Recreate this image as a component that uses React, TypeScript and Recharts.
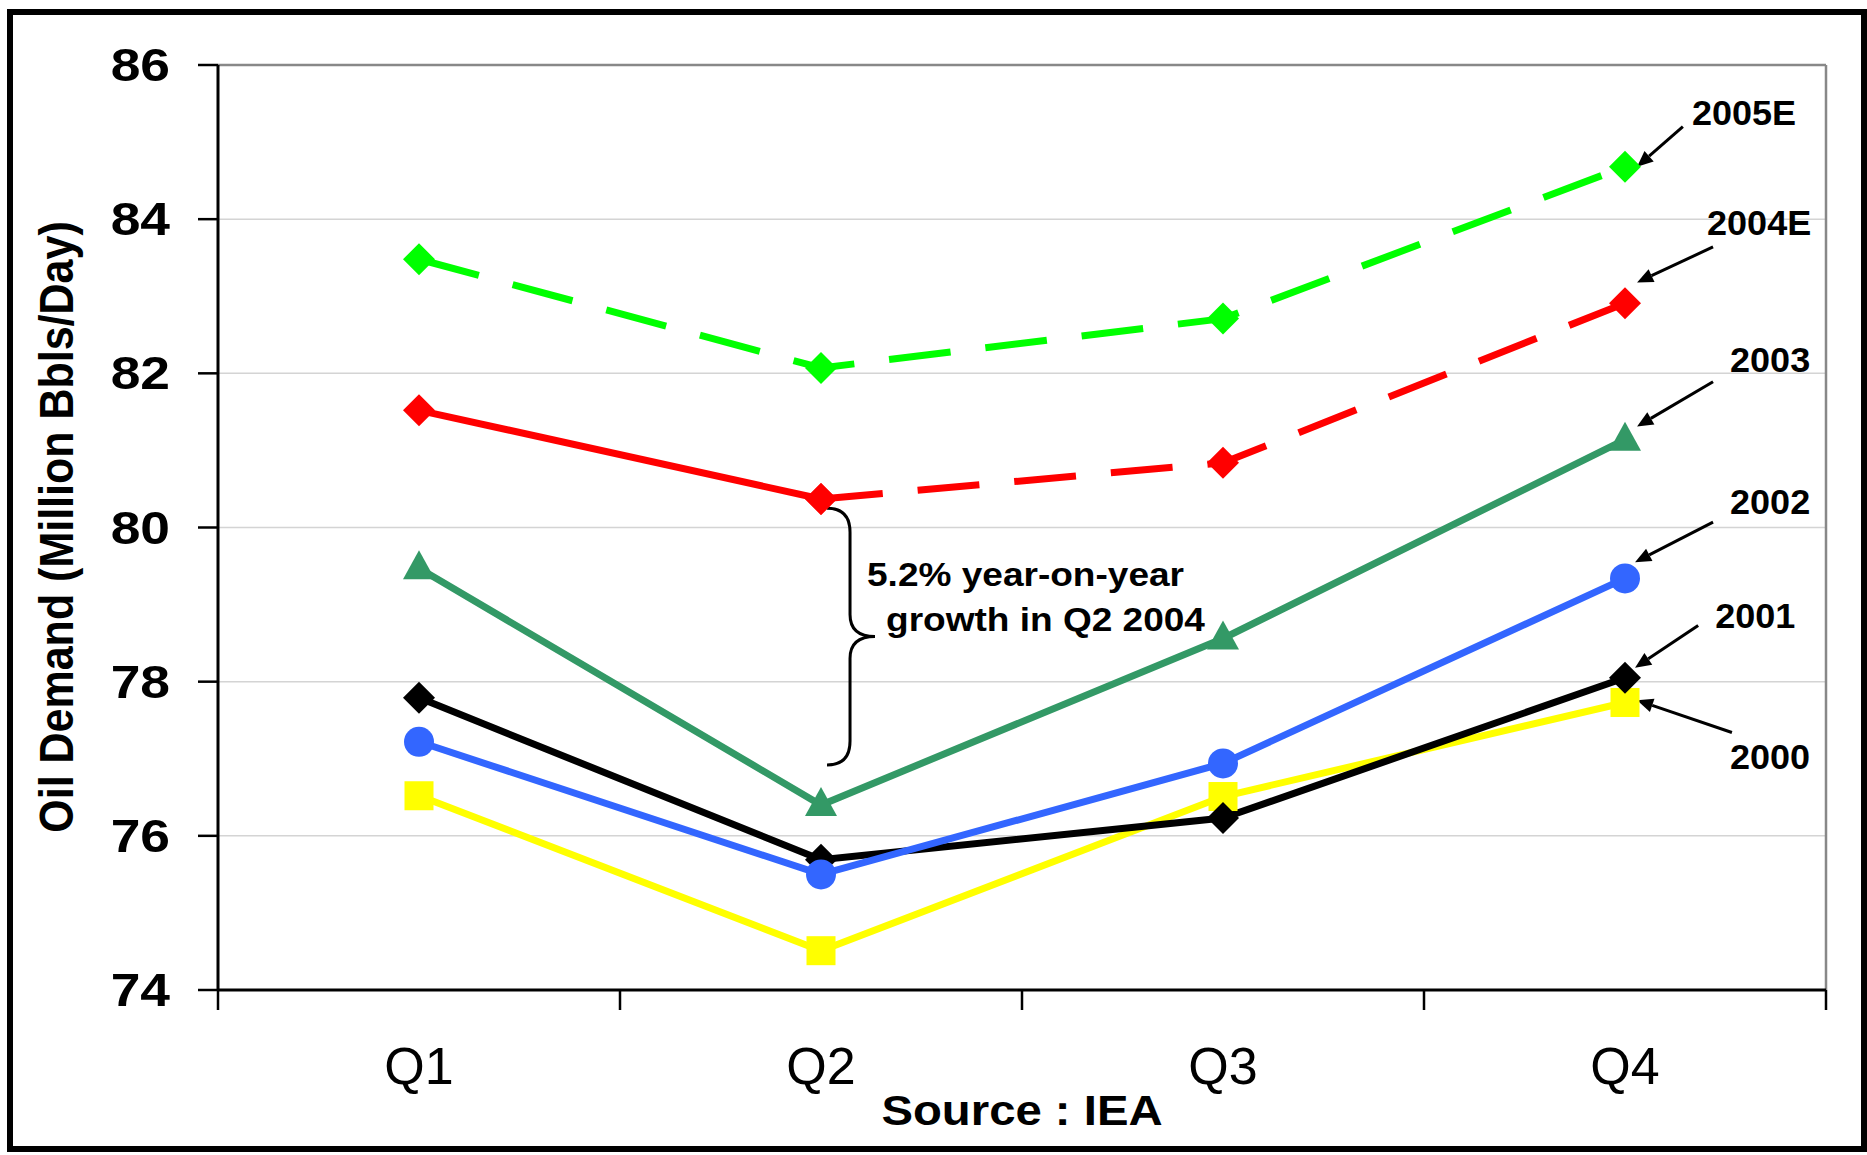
import React from 'react';
import { LineChart, Line, XAxis, YAxis, CartesianGrid, ReferenceLine } from 'recharts';

const FONT = '"Liberation Sans", Arial, Helvetica, sans-serif';

const quarters = ['Q1', 'Q2', 'Q3', 'Q4'];
const demand2000 = [76.52, 74.51, 76.51, 77.73];
const demand2001 = [77.79, 75.69, 76.23, 78.05];
const demand2002 = [77.22, 75.5, 76.94, 79.34];
const demand2003 = [79.47, 76.4, 78.56, 81.14];
const demand2004 = [81.52, 80.37, 80.84, 82.91];
const demand2005 = [83.48, 82.07, 82.71, 84.68];
const yTicks = [74, 76, 78, 80, 82, 84, 86];
const xTicks = [0, 0.5, 1, 1.5, 2, 2.5, 3, 3.5, 4];

// 2004 is actual up to Q2, estimated afterwards
const rows = quarters.map((q, i) => ({
  pos: i + 0.5,
  quarter: q,
  y2000: demand2000[i],
  y2001: demand2001[i],
  y2002: demand2002[i],
  y2003: demand2003[i],
  y2004a: i <= 1 ? demand2004[i] : null,
  y2004e: i >= 1 ? demand2004[i] : null,
  y2005: demand2005[i],
}));

// series callouts: tail and head of each arrow in chart units, text offset from the tail
const callouts = [
  { text: '2005E', tail: { x: 3.644, y: 85.2 }, head: { x: 3.53, y: 84.68 }, dx: 9, dy: -2 },
  { text: '2004E', tail: { x: 3.719, y: 83.64 }, head: { x: 3.53, y: 83.18 }, dx: -6, dy: -12 },
  { text: '2003', tail: { x: 3.719, y: 81.89 }, head: { x: 3.53, y: 81.31 }, dx: 17, dy: -10 },
  { text: '2002', tail: { x: 3.719, y: 80.07 }, head: { x: 3.525, y: 79.55 }, dx: 17, dy: -8 },
  { text: '2001', tail: { x: 3.682, y: 78.73 }, head: { x: 3.525, y: 78.18 }, dx: 17, dy: 3 },
  { text: '2000', tail: { x: 3.766, y: 77.34 }, head: { x: 3.53, y: 77.76 }, dx: -2, dy: 36 },
];

const StretchText = ({ x, y, sx = 1, size, weight = 'bold', anchor = 'start', rotate, children }: any) => (
  <text
    transform={`translate(${x},${y}) scale(${sx},1)${rotate ? ` rotate(${rotate})` : ''}`}
    fontSize={size}
    fontWeight={weight}
    fontFamily={FONT}
    textAnchor={anchor}
    fill="#000"
  >
    {children}
  </text>
);

const diamondDot = (color: string) => (p: any) => {
  const { cx, cy, index } = p;
  if (cy == null || isNaN(cy)) return <g key={index} />;
  const h = 16;
  return <polygon key={index} points={`${cx},${cy - h} ${cx + h},${cy} ${cx},${cy + h} ${cx - h},${cy}`} fill={color} />;
};

const squareDot = (color: string) => (p: any) => {
  const { cx, cy, index } = p;
  if (cy == null || isNaN(cy)) return <g key={index} />;
  return <rect key={index} x={cx - 14.5} y={cy - 14.5} width={29} height={29} fill={color} />;
};

const circleDot = (color: string) => (p: any) => {
  const { cx, cy, index } = p;
  if (cy == null || isNaN(cy)) return <g key={index} />;
  return <circle key={index} cx={cx} cy={cy} r={15} fill={color} />;
};

const triangleDot = (color: string) => (p: any) => {
  const { cx, cy, index } = p;
  if (cy == null || isNaN(cy)) return <g key={index} />;
  return <polygon key={index} points={`${cx},${cy - 18} ${cx + 16},${cy + 11} ${cx - 16},${cy + 11}`} fill={color} />;
};

const DemandTick = (p: any) => (
  <StretchText x={p.x} y={p.y + 16} sx={1.16} size={46} anchor="end">
    {p.payload.value}
  </StretchText>
);

// integer positions get a tick mark, half positions carry the quarter name
const QuarterTick = (p: any) => {
  const v = p.payload.value;
  if (Number.isInteger(v)) {
    return <line x1={p.x} y1={p.y} x2={p.x} y2={p.y + 20} stroke="#000" strokeWidth={2.5} />;
  }
  return (
    <text x={p.x} y={p.y + 94} textAnchor="middle" fontSize={52} fontFamily={FONT} fill="#000">
      {quarters[Math.floor(v)]}
    </text>
  );
};

const arrowShape = (label: string, dx: number, dy: number) => (p: any) => {
  const { x1, y1, x2, y2 } = p;
  const ang = Math.atan2(y2 - y1, x2 - x1);
  const len = 16;
  const half = 7;
  const bx = x2 - len * Math.cos(ang);
  const by = y2 - len * Math.sin(ang);
  const nx = -Math.sin(ang) * half;
  const ny = Math.cos(ang) * half;
  return (
    <g>
      <line x1={x1} y1={y1} x2={bx} y2={by} stroke="#000" strokeWidth={3} />
      <polygon points={`${x2},${y2} ${bx + nx},${by + ny} ${bx - nx},${by - ny}`} fill="#000" />
      <StretchText x={x1 + dx} y={y1 + dy} sx={1.03} size={35}>
        {label}
      </StretchText>
    </g>
  );
};

// curly brace spanning the Q2 gap between 2003 and 2004
const braceShape = (p: any) => {
  const { x1, y1, y2 } = p;
  const xa = x1 + 23;
  const tip = x1 + 48;
  const ym = (y1 + y2) / 2;
  const d = `M ${x1} ${y1} Q ${xa} ${y1} ${xa} ${y1 + 24} L ${xa} ${ym - 22} Q ${xa} ${ym} ${tip} ${ym} Q ${xa} ${ym} ${xa} ${ym + 22} L ${xa} ${y2 - 24} Q ${xa} ${y2} ${x1} ${y2}`;
  return (
    <g>
      <path d={d} fill="none" stroke="#000" strokeWidth={3} />
      <StretchText x={tip - 8} y={ym - 51} sx={1.14} size={32.5}>
        5.2% year-on-year
      </StretchText>
      <StretchText x={tip + 11} y={ym - 6} sx={1.14} size={32.5}>
        growth in Q2 2004
      </StretchText>
    </g>
  );
};

export default function App() {
  return (
    <div style={{ position: 'absolute', left: 0, top: 0, width: 1867, height: 1155, background: '#fff' }}>
      <LineChart
        width={1867}
        height={1155}
        data={rows}
        margin={{ top: 65, right: 41, bottom: 0, left: 0 }}
      >
        <CartesianGrid vertical={false} stroke="#d4d4d4" strokeWidth={1.5} />
        <XAxis
          type="number"
          dataKey="pos"
          domain={[0, 4]}
          ticks={xTicks}
          interval={0}
          height={165}
          tickSize={0}
          tickMargin={0}
          tickLine={false}
          axisLine={{ stroke: '#000', strokeWidth: 3 }}
          tick={<QuarterTick />}
        />
        <YAxis
          type="number"
          domain={[74, 86]}
          ticks={yTicks}
          interval={0}
          width={218}
          tickSize={20}
          tickMargin={28}
          tickLine={{ stroke: '#000', strokeWidth: 2.5 }}
          axisLine={{ stroke: '#000', strokeWidth: 3 }}
          tick={<DemandTick />}
        />
        <ReferenceLine y={86} stroke="#888" strokeWidth={2.5} />
        <ReferenceLine x={4} stroke="#888" strokeWidth={2.5} />

        <Line type="linear" dataKey="y2000" stroke="#ffff00" strokeWidth={7} dot={squareDot('#ffff00')} activeDot={false} isAnimationActive={false} />
        <Line type="linear" dataKey="y2001" stroke="#000000" strokeWidth={7} dot={diamondDot('#000000')} activeDot={false} isAnimationActive={false} />
        <Line type="linear" dataKey="y2002" stroke="#3366ff" strokeWidth={7} dot={circleDot('#3366ff')} activeDot={false} isAnimationActive={false} />
        <Line type="linear" dataKey="y2003" stroke="#339966" strokeWidth={7} dot={triangleDot('#339966')} activeDot={false} isAnimationActive={false} />
        <Line type="linear" dataKey="y2004a" stroke="#ff0000" strokeWidth={7} dot={diamondDot('#ff0000')} activeDot={false} isAnimationActive={false} />
        <Line type="linear" dataKey="y2004e" stroke="#ff0000" strokeWidth={7} strokeDasharray="62 35" dot={diamondDot('#ff0000')} activeDot={false} isAnimationActive={false} />
        <Line type="linear" dataKey="y2005" stroke="#00ff00" strokeWidth={7} strokeDasharray="62 35" dot={diamondDot('#00ff00')} activeDot={false} isAnimationActive={false} />

        <ReferenceLine
          segment={[{ x: 1.515, y: 80.25 }, { x: 1.515, y: 76.92 }]}
          stroke="#000"
          shape={braceShape}
        />
        {callouts.map((c) => (
          <ReferenceLine
            key={c.text}
            segment={[c.tail, c.head]}
            stroke="#000"
            shape={arrowShape(c.text, c.dx, c.dy)}
          />
        ))}
      </LineChart>

      <svg width={1867} height={1155} style={{ position: 'absolute', left: 0, top: 0, pointerEvents: 'none' }}>
        <StretchText x={73} y={527} sx={1.12} size={43} anchor="middle" rotate={-90}>
          Oil Demand (Million Bbls/Day)
        </StretchText>
        <StretchText x={1022} y={1125} sx={1.1} size={43} anchor="middle">
          Source : IEA
        </StretchText>
      </svg>

      <div
        style={{
          position: 'absolute',
          left: 7,
          top: 9,
          width: 1860,
          height: 1143,
          boxSizing: 'border-box',
          border: '6px solid #000',
          pointerEvents: 'none',
        }}
      />
    </div>
  );
}
